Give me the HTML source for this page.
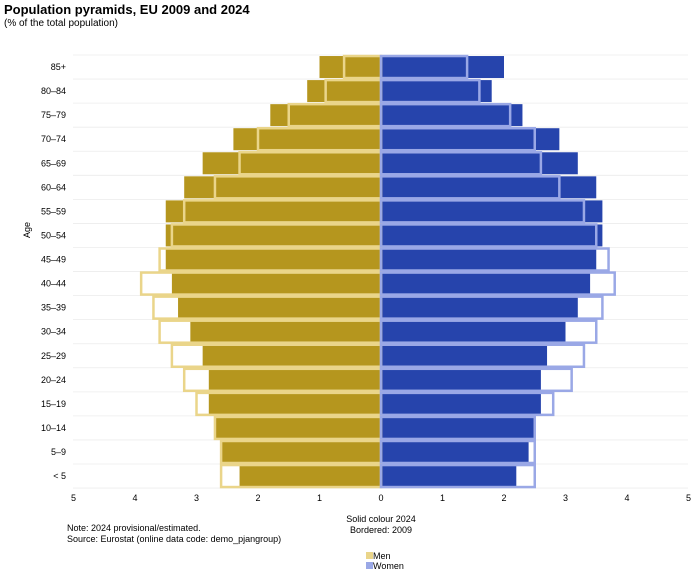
<!DOCTYPE html>
<html><head><meta charset="utf-8">
<style>
body{margin:0;background:#fff;font-family:"Liberation Sans",sans-serif;}
#wrap{position:relative;width:700px;height:579px;overflow:hidden;}
</style></head>
<body>
<div id="wrap">
<svg id="svg" width="700" height="579" xmlns="http://www.w3.org/2000/svg">
<text x="4" y="14" font-size="13" font-weight="bold" fill="#000">Population pyramids, EU 2009 and 2024</text>
<text x="4" y="26" font-size="10" fill="#000">(% of the total population)</text>
<text transform="translate(30,230) rotate(-90)" font-size="9" text-anchor="middle">Age</text>
<text x="381" y="522" font-size="9" text-anchor="middle">Solid colour 2024</text>
<text x="381" y="533" font-size="9" text-anchor="middle">Bordered: 2009</text>
<text x="67" y="531" font-size="9">Note: 2024 provisional/estimated.</text>
<text x="67" y="542" font-size="9">Source: Eurostat (online data code: demo_pjangroup)</text>
<g>
<rect x="366" y="552" width="7" height="7" fill="#EAD58A"/>
<text x="373" y="559" font-size="9">Men</text>
<rect x="366" y="562" width="7" height="7" fill="#9AA8E6"/>
<text x="373" y="569" font-size="9">Women</text>
</g>
<g id="plot"></g>
</svg>
</div>
<script>
const ageGroups=["85+","80–84","75–79","70–74","65–69","60–64","55–59","50–54","45–49","40–44","35–39","30–34","25–29","20–24","15–19","10–14","5–9","< 5"];
const men2024=[1.0,1.2,1.8,2.4,2.9,3.2,3.5,3.5,3.5,3.4,3.3,3.1,2.9,2.8,2.8,2.7,2.6,2.3];
const men2009=[0.6,0.9,1.5,2.0,2.3,2.7,3.2,3.4,3.6,3.9,3.7,3.6,3.4,3.2,3.0,2.7,2.6,2.6];
const women2024=[2.0,1.8,2.3,2.9,3.2,3.5,3.6,3.6,3.5,3.4,3.2,3.0,2.7,2.6,2.6,2.5,2.4,2.2];
const women2009=[1.4,1.6,2.1,2.5,2.6,2.9,3.3,3.5,3.7,3.8,3.6,3.5,3.3,3.1,2.8,2.5,2.5,2.5];
const xTicks=[5,4,3,2,1,0,1,2,3,4,5];

const NS="http://www.w3.org/2000/svg";
const g=document.getElementById("plot");
const cx=381, unit=61.5, y0=55, rowH=24.06, barH=22;
const xM=v=>cx-v*unit, xW=v=>cx+v*unit;
const yRow=i=>y0+i*rowH;
function mk(t,a){const e=document.createElementNS(NS,t);for(const k in a)e.setAttribute(k,a[k]);g.appendChild(e);return e;}
for(let i=0;i<=ageGroups.length;i++){
  const l=mk("line",{x1:73,x2:688,y1:yRow(i),y2:yRow(i),stroke:"#ececec","stroke-width":0.8});
  
  
}
ageGroups.forEach((a,i)=>{
  const yc=yRow(i)+rowH/2, yt=yc-barH/2;
  const t=mk("text",{x:66,y:yc+3,"font-size":9,"text-anchor":"end"});t.textContent=a;
  
  
  let r=mk("rect",{x:xM(men2024[i]),y:yt,width:cx-xM(men2024[i]),height:barH,fill:"#B5961E"});
  
  
  r=mk("rect",{x:cx,y:yt,width:xW(women2024[i])-cx,height:barH,fill:"#2644AC"});
  
  
  r=mk("rect",{x:xM(men2009[i]),y:yt,width:cx-xM(men2009[i]),height:barH,fill:"none",stroke:"#EAD58A","stroke-width":2.5});
  
  
  r=mk("rect",{x:cx,y:yt,width:xW(women2009[i])-cx,height:barH,fill:"none",stroke:"#9AA8E6","stroke-width":2.5});
  
  
});
xTicks.forEach((v,i)=>{
  const x=i<5?xM(v):xW(v);
  const t=mk("text",{x:x,y:501,"font-size":9,"text-anchor":"middle"});t.textContent=v;
  
  
});
</script>
</body></html>
